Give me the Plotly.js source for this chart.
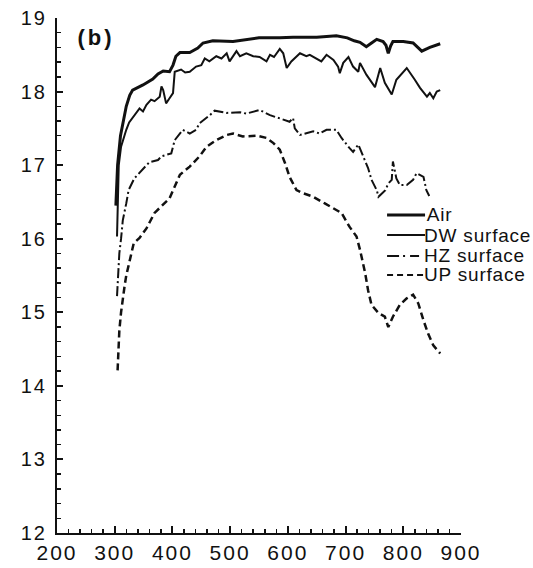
<!DOCTYPE html>
<html>
<head>
<meta charset="utf-8">
<script src="https://cdn.plot.ly/plotly-3.0.1.min.js"></script>
<style>
html,body{margin:0;padding:0;background:#fff;}
#chart{width:533px;height:568px;}
#chart .xtick text, #chart .ytick text{letter-spacing:2px;}
#chart .annotation text{letter-spacing:0.8px;}
#chart .annotation:last-child text{letter-spacing:3px;}
</style>
</head>
<body>
<div id="chart"></div>
<script>
// ---- data ----
var airX = [302,305,310,314,320,326,331,349,366,375,384,395,401,406,413,430,444,453,470,505,534,550,586,609,650,684,703,715,725,736,745,754,765,770,774,778,782,800,817,826,832,846,864];
var airY = [16.45,17.0,17.4,17.55,17.8,17.95,18.02,18.09,18.17,18.24,18.28,18.27,18.36,18.48,18.53,18.53,18.59,18.66,18.69,18.68,18.71,18.73,18.73,18.74,18.74,18.76,18.73,18.69,18.67,18.61,18.66,18.71,18.68,18.63,18.52,18.62,18.68,18.68,18.66,18.6,18.55,18.6,18.65];

var dwX = [304,305,307,311,316,320,325,329,334,338,343,349,355,363,369,378,381,384,389,395,401,404,415,422,430,441,450,456,464,476,485,494,499,511,517,528,540,551,563,569,576,586,592,598,606,621,632,638,658,667,679,687,690,696,705,713,722,725,736,751,760,768,780,788,794,806,820,829,841,846,852,858,864];
var dwY = [16.03,16.6,17.0,17.25,17.4,17.48,17.58,17.62,17.68,17.72,17.77,17.73,17.82,17.89,17.87,17.93,18.07,18.02,17.84,17.91,17.98,18.27,18.30,18.26,18.27,18.34,18.36,18.45,18.41,18.48,18.45,18.52,18.41,18.55,18.48,18.52,18.48,18.47,18.41,18.50,18.47,18.58,18.52,18.32,18.41,18.52,18.48,18.50,18.41,18.50,18.43,18.34,18.25,18.39,18.47,18.34,18.27,18.39,18.23,18.06,18.32,18.12,17.96,18.16,18.21,18.32,18.16,18.05,17.93,17.98,17.91,18.0,18.02];

var hzX = [304,306,308,311,314,320,324,334,349,360,375,381,398,404,418,430,441,447,465,473,494,517,528,551,569,586,603,609,612,621,632,644,655,667,684,693,707,713,722,734,739,745,754,757,769,774,780,782,788,794,806,817,823,835,840,845];
var hzY = [15.22,15.5,15.8,16.0,16.25,16.48,16.66,16.82,16.94,17.04,17.07,17.12,17.16,17.34,17.48,17.43,17.48,17.57,17.68,17.74,17.71,17.72,17.70,17.75,17.68,17.64,17.59,17.64,17.50,17.41,17.43,17.46,17.43,17.48,17.48,17.37,17.23,17.18,17.28,17.07,16.96,16.80,16.66,16.57,16.66,16.75,16.80,17.05,16.82,16.73,16.73,16.80,16.89,16.84,16.66,16.58];

var upX = [305,306,308,311,314,317,320,324,329,333,343,355,369,386,395,404,413,430,441,447,459,476,494,505,522,546,563,575,586,595,603,609,615,626,644,664,684,693,707,719,725,734,739,745,757,768,774,782,794,806,817,826,835,843,852,864];
var upY = [14.21,14.5,14.75,15.0,15.2,15.35,15.5,15.65,15.82,15.94,16.01,16.14,16.35,16.48,16.55,16.71,16.87,16.98,17.07,17.12,17.25,17.34,17.41,17.43,17.39,17.40,17.37,17.3,17.21,17.03,16.84,16.75,16.66,16.62,16.57,16.48,16.39,16.35,16.16,16.03,15.85,15.53,15.30,15.10,14.99,14.94,14.80,14.94,15.10,15.19,15.24,15.12,14.89,14.71,14.55,14.44];

var seriesNames = ['Air','DW surface','HZ surface','UP surface'];
var xTickVals = [200,300,400,500,600,700,800,900];
var yTickVals = [12,13,14,15,16,17,18,19];
var panelLabel = '(b)';

var FONT = 'Liberation Sans, Arial, Helvetica, sans-serif';
var INK = '#111';

var styles = [
  {color: INK, width: 3, dash: 'solid'},
  {color: INK, width: 2, dash: 'solid'},
  {color: INK, width: 2, dash: '10px,3px,2px,3px'},
  {color: INK, width: 2.5, dash: '7px,4px'}
];
var xs = [airX, dwX, hzX, upX];
var ys = [airY, dwY, hzY, upY];

var traces = seriesNames.map(function (n, i) {
  return {x: xs[i], y: ys[i], name: n, mode: 'lines', line: styles[i], showlegend: false};
});

// legend drawn in paper coordinates (sample line + label)
var legRowsY = [0.6175, 0.5786, 0.5379, 0.501];
var legLineX0 = 0.817, legLineX1 = 0.911, legTextX = 0.913;
var legendDash = ['solid', 'solid', '12px,4px,2px,5px,9px', '6px,4px'];
var shapes = seriesNames.map(function (n, i) {
  return {type: 'line', xref: 'paper', yref: 'paper', x0: legLineX0, x1: legLineX1,
          y0: legRowsY[i], y1: legRowsY[i],
          line: {color: INK, width: i === 0 ? 3 : 2, dash: legendDash[i]}};
});
var annotations = seriesNames.map(function (n, i) {
  return {text: n, xref: 'paper', yref: 'paper', x: legTextX, y: legRowsY[i],
          xanchor: 'left', yanchor: 'middle', showarrow: false,
          font: {family: FONT, size: 19, color: INK}};
});
annotations.push({text: '<b>' + panelLabel + '</b>', xref: 'paper', yref: 'paper', x: 0.058, y: 0.963,
  xanchor: 'left', yanchor: 'middle', showarrow: false,
  font: {family: FONT, size: 22, color: INK}});

var layout = {
  width: 533, height: 568,
  margin: {l: 57, r: 72, t: 18, b: 35},
  paper_bgcolor: '#fff', plot_bgcolor: '#fff',
  font: {family: FONT, color: INK, size: 19},
  showlegend: false,
  xaxis: {
    range: [200, 900], showgrid: false, zeroline: false,
    showline: true, linecolor: INK, linewidth: 2,
    ticks: 'inside', ticklen: 7, tickwidth: 2, tickcolor: INK,
    tickvals: xTickVals, ticktext: xTickVals.map(String),
    tickfont: {family: FONT, size: 21, color: INK},
    minor: {ticks: 'inside', ticklen: 4, tickwidth: 1.5, tickcolor: INK, dtick: 20, showgrid: false},
    fixedrange: true
  },
  yaxis: {
    range: [12, 19], showgrid: false, zeroline: false,
    showline: true, linecolor: INK, linewidth: 2,
    ticks: 'inside', ticklen: 6, tickwidth: 2, tickcolor: INK,
    tickvals: yTickVals, ticktext: yTickVals.map(String),
    tickfont: {family: FONT, size: 20, color: INK},
    ticklabelstandoff: 4,
    minor: {ticks: 'inside', ticklen: 3.5, tickwidth: 1.5, tickcolor: INK, dtick: 0.2, showgrid: false},
    fixedrange: true
  },
  shapes: shapes,
  annotations: annotations
};

Plotly.newPlot('chart', traces, layout, {displayModeBar: false, staticPlot: true});
</script>
</body>
</html>
